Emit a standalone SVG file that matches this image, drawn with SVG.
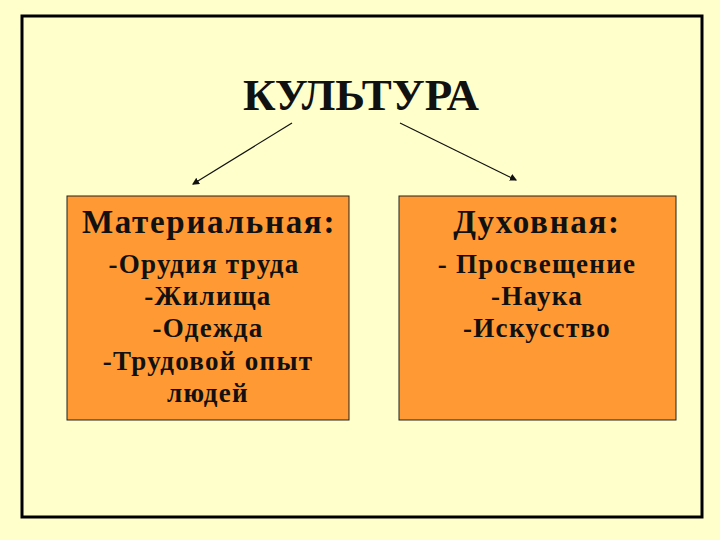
<svg xmlns="http://www.w3.org/2000/svg" width="720" height="540" viewBox="0 0 720 540">
<style>
text{font-family:"Liberation Serif","Times New Roman",serif;font-weight:bold;fill:#111;text-anchor:middle}
.h{font-size:33px;letter-spacing:1.7px}
.i{font-size:27px;letter-spacing:1.3px}
.box{fill:#FF9933;stroke:#222;stroke-width:1}
.ln{stroke:#111;stroke-width:1.2;fill:none;marker-end:url(#ah)}
</style>
<defs>
<marker id="ah" markerWidth="6" markerHeight="6" refX="5" refY="3" orient="auto" markerUnits="strokeWidth">
<path d="M0,0 L6,3 L0,6 z" fill="#111"/>
</marker>
</defs>
<rect width="720" height="540" fill="#FFFFCC"/>
<rect x="22" y="16" width="680" height="501" fill="#FFFFCC" stroke="#000" stroke-width="3"/>
<g id="title"><text x="361" y="110" style="font-size:45px">КУЛЬТУРА</text></g>
<g id="connectors">
<line class="ln" x1="292" y1="123" x2="193" y2="184"/>
<line class="ln" x1="400" y1="123" x2="516" y2="180"/>
</g>
<g id="material">
<rect class="box" x="67" y="196" width="282" height="224"/>
<text class="h" x="209" y="233">Материальная:</text>
<text class="i" x="204" y="273">-Орудия труда</text>
<text class="i" x="208" y="305">-Жилища</text>
<text class="i" x="208" y="337">-Одежда</text>
<text class="i" x="208" y="370">-Трудовой опыт</text>
<text class="i" x="208" y="402">людей</text>
</g>
<g id="spiritual">
<rect class="box" x="399" y="196" width="277" height="224"/>
<text class="h" x="537" y="233">Духовная:</text>
<text class="i" x="537" y="273">- Просвещение</text>
<text class="i" x="537" y="305">-Наука</text>
<text class="i" x="537" y="337">-Искусство</text>
</g>
</svg>
